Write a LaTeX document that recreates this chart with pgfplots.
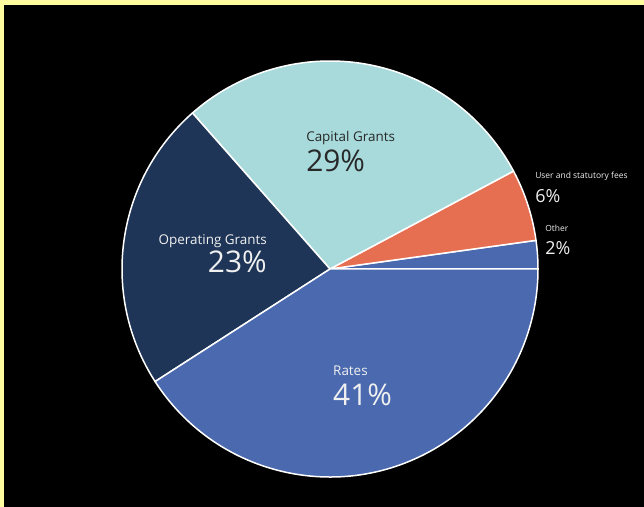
\documentclass[border=0pt]{standalone}
\usepackage{fontspec}
\setmainfont{Open Sans}
\usepackage{pgfplots}
\usepackage{pgfplotstable}
\pgfplotsset{compat=1.18}

\definecolor{bgyellow}{RGB}{255,252,160}
\definecolor{cRates}{RGB}{74,105,175}
\definecolor{cOper}{RGB}{30,53,87}
\definecolor{cCap}{RGB}{168,218,219}
\definecolor{cFees}{RGB}{231,111,81}
\definecolor{txtlight}{RGB}{240,240,240}
\definecolor{txtdark}{RGB}{40,40,40}

% shares in percent, counter-clockwise from east
\pgfplotstableread{
label value
Other 2.2
Fees 5.6
Capital 28.7
Operating 22.6
Rates 40.9
}\piedata

\begin{document}
\begin{tikzpicture}
% start and end angle of each slice
\gdef\cum{0}
\foreach \i/\n in {0/A,1/B,2/C,3/D,4/E}{%
  \pgfplotstablegetelem{\i}{value}\of\piedata
  \pgfmathsetmacro\endang{\cum+3.6*\pgfplotsretval}%
  \expandafter\xdef\csname sa\n\endcsname{\cum}%
  \expandafter\xdef\csname ea\n\endcsname{\endang}%
  \xdef\cum{\endang}%
}
\fill[bgyellow] (0,0) rectangle (644bp,507bp);
\fill[black] (4bp,0) rectangle (644bp,502bp);
\begin{axis}[
  x=208bp, y=208bp,
  xmin=-1, xmax=1, ymin=-1, ymax=1,
  hide axis, clip=false,
  at={(330bp,238bp)}, anchor=origin,
]
\pgfplotsextra{
\tikzset{wedge/.style={draw=white, line width=1.5bp, line join=round}}
\filldraw[wedge, fill=cRates] (axis cs:0,0) -- ++(\saA:208bp) arc[start angle=\saA, end angle=\eaA, radius=208bp] -- cycle;
\filldraw[wedge, fill=cFees] (axis cs:0,0) -- ++(\saB:208bp) arc[start angle=\saB, end angle=\eaB, radius=208bp] -- cycle;
\filldraw[wedge, fill=cCap] (axis cs:0,0) -- ++(\saC:208bp) arc[start angle=\saC, end angle=\eaC, radius=208bp] -- cycle;
\filldraw[wedge, fill=cOper] (axis cs:0,0) -- ++(\saD:208bp) arc[start angle=\saD, end angle=\eaD, radius=208bp] -- cycle;
\filldraw[wedge, fill=cRates] (axis cs:0,0) -- ++(\saE:208bp) arc[start angle=\saE, end angle=\eaE, radius=208bp] -- cycle;
}
\node[anchor=base west, inner sep=0, text=txtdark, font=\fontsize{13.5}{14}\selectfont] at (axis cs:-0.115,0.611) {Capital Grants};
\node[anchor=base west, inner sep=0, text=txtdark, font=\fontsize{30}{30}\selectfont] at (axis cs:-0.115,0.471) {29\%};
\node[anchor=base east, inner sep=0, text=txtlight, font=\fontsize{13.5}{14}\selectfont] at (axis cs:-0.303,0.120) {Operating Grants};
\node[anchor=base east, inner sep=0, text=txtlight, font=\fontsize{30}{30}\selectfont] at (axis cs:-0.303,-0.019) {23\%};
\node[anchor=base west, inner sep=0, text=txtlight, font=\fontsize{13.5}{14}\selectfont] at (axis cs:0.0144,-0.510) {Rates};
\node[anchor=base west, inner sep=0, text=txtlight, font=\fontsize{30}{30}\selectfont] at (axis cs:0.0144,-0.654) {41\%};
\node[anchor=base west, inner sep=0, text=txtlight, font=\fontsize{8.5}{9}\selectfont] at (axis cs:0.986,0.433) {User and statutory fees};
\node[anchor=base west, inner sep=0, text=txtlight, font=\fontsize{18}{18}\selectfont] at (axis cs:0.986,0.322) {6\%};
\node[anchor=base west, inner sep=0, text=txtlight, font=\fontsize{8.5}{9}\selectfont] at (axis cs:1.034,0.178) {Other};
\node[anchor=base west, inner sep=0, text=txtlight, font=\fontsize{18}{18}\selectfont] at (axis cs:1.034,0.072) {2\%};
\end{axis}
\end{tikzpicture}
\end{document}
